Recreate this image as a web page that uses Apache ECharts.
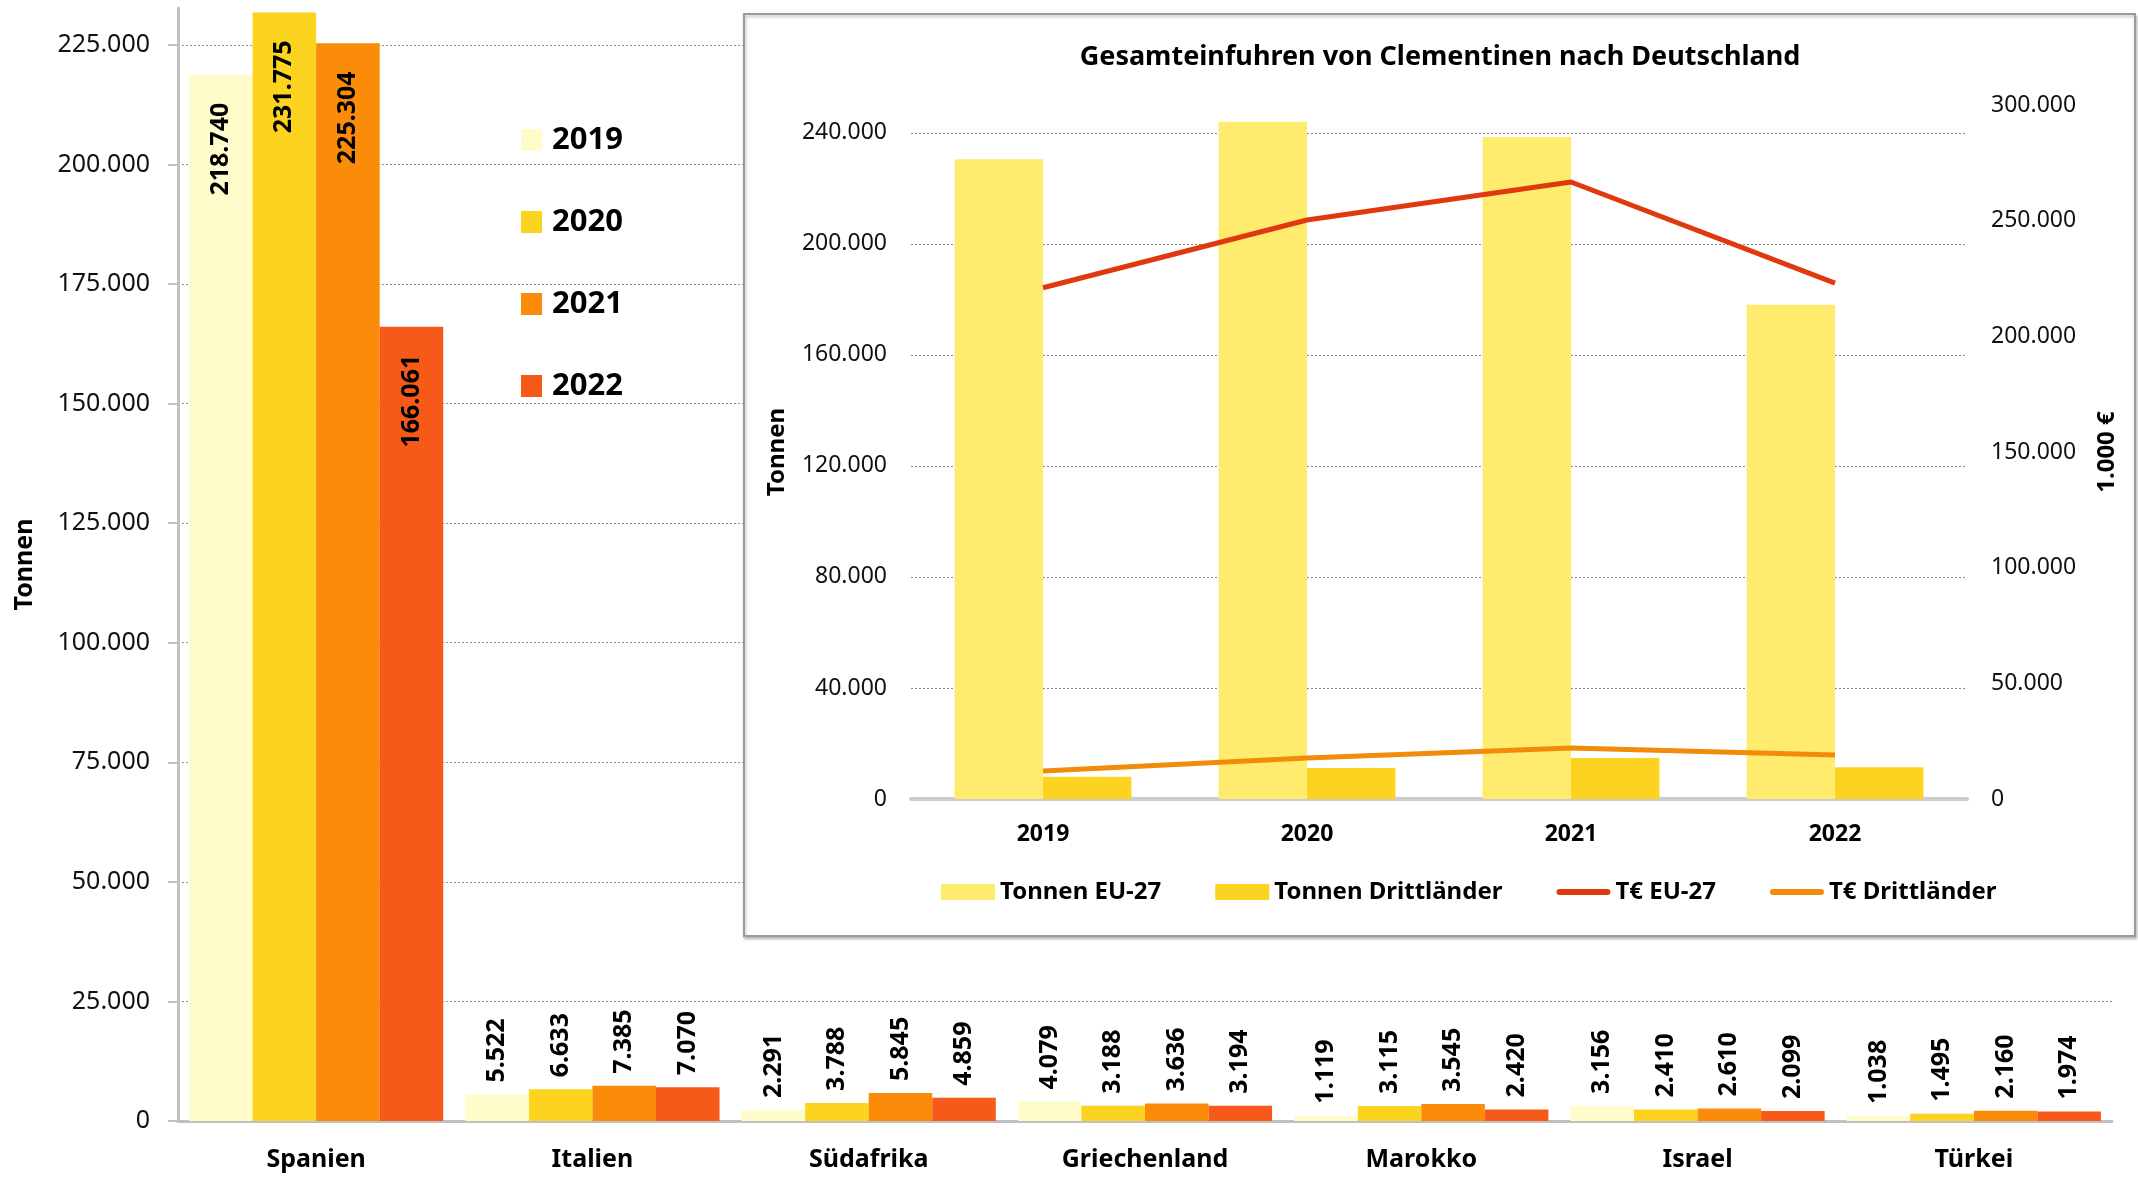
<!DOCTYPE html>
<html>
<head>
<meta charset="utf-8">
<script src="https://cdn.jsdelivr.net/npm/echarts@6/dist/echarts.min.js"></script>
<style>
  html, body { margin: 0; padding: 0; background: #fff; }
  #chart { width: 2138px; height: 1177px; }
</style>
</head>
<body>
<div id="chart"></div>
<script>
// main chart: imports by country (Tonnen)
const countries = ['Spanien', 'Italien', 'Südafrika', 'Griechenland', 'Marokko', 'Israel', 'Türkei']
const v2019 = [218740, 5522, 2291, 4079, 1119, 3156, 1038]
const v2020 = [231775, 6633, 3788, 3188, 3115, 2410, 1495]
const v2021 = [225304, 7385, 5845, 3636, 3545, 2610, 2160]
const v2022 = [166061, 7070, 4859, 3194, 2420, 2099, 1974]

// inset: total imports
const years = ['2019', '2020', '2021', '2022']
const tonsEU = [230500, 244000, 238500, 178000]
const tonsThird = [8000, 11200, 14800, 11400]
const euroEU = [221000, 250300, 266700, 223000]
const euroThird = [12100, 17700, 22000, 19000]

const FONT = 'Noto Sans'
const fmt = v => String(v).replace(/\B(?=(\d{3})+(?!\d))/g, '.')

const yearColors = ['#FFFCCB', '#FCD420', '#FA8C0A', '#F75A18']
const lineIcon = 'path://M3,0 H51 A3,3 0 0 1 51,6 H3 A3,3 0 0 1 3,0 Z'

const labelSmall = {
  show: true,
  position: 'top',
  rotate: 90,
  align: 'left',
  verticalAlign: 'middle',
  distance: 12,
  fontFamily: FONT,
  fontWeight: 'bold',
  fontSize: 25,
  color: '#000',
  formatter: p => fmt(p.value)
}
const labelBig = {
  position: 'insideTop',
  align: 'right',
  distance: 28
}

const mainSeries = (name, values, color) => ({
  name,
  type: 'bar',
  xAxisIndex: 0,
  yAxisIndex: 0,
  barGap: '0%',
  barCategoryGap: '8%',
  itemStyle: { color },
  label: labelSmall,
  data: values.map(v => (v > 100000 ? { value: v, label: labelBig } : v))
})

const chart = echarts.init(document.getElementById('chart'))

const option = {
  animation: false,
  backgroundColor: '#fff',
  textStyle: { fontFamily: FONT },
  title: {
    text: 'Gesamteinfuhren von Clementinen nach Deutschland',
    left: 1440,
    top: 44,
    padding: 0,
    textAlign: 'center',
    z: 10,
    textStyle: { fontFamily: FONT, fontSize: 27, fontWeight: 'bold', color: '#000' }
  },
  graphic: [
    {
      type: 'rect',
      z: 1,
      shape: { x: 744, y: 14, width: 1391, height: 922 },
      style: {
        fill: '#fff',
        stroke: '#9a9a9a',
        lineWidth: 2,
        shadowBlur: 3,
        shadowOffsetX: 1,
        shadowOffsetY: 2,
        shadowColor: 'rgba(0,0,0,0.25)'
      }
    }
  ],
  legend: [
    {
      data: years,
      orient: 'vertical',
      left: 521,
      top: 124,
      padding: 0,
      itemWidth: 21,
      itemHeight: 22,
      itemGap: 50,
      icon: 'rect',
      textStyle: { fontFamily: FONT, fontSize: 31, fontWeight: 'bold', color: '#000', lineHeight: 32, padding: [0, 0, 0, 5] }
    },
    {
      data: [
        { name: 'Tonnen EU-27', icon: 'rect' },
        { name: 'Tonnen Drittländer', icon: 'rect' },
        { name: 'T€ EU-27', icon: lineIcon },
        { name: 'T€ Drittländer', icon: lineIcon }
      ],
      left: 941,
      top: 880,
      padding: 0,
      itemWidth: 54,
      itemHeight: 16,
      itemGap: 54,
      z: 10,
      textStyle: { fontFamily: FONT, fontSize: 24, fontWeight: 'bold', color: '#000' }
    }
  ],
  grid: [
    { left: 178, right: 26, top: 8, bottom: 56 },
    { left: 911, right: 171, top: 105, bottom: 378, z: 5 }
  ],
  xAxis: [
    {
      type: 'category',
      gridIndex: 0,
      data: countries,
      axisLine: { lineStyle: { color: '#c0c0c0', width: 3 } },
      axisTick: { show: false },
      axisLabel: { fontFamily: FONT, fontSize: 25, fontWeight: 'bold', color: '#000', margin: 26 }
    },
    {
      type: 'category',
      gridIndex: 1,
      data: years,
      z: 5,
      axisLine: { lineStyle: { color: '#cccccc', width: 4 } },
      axisTick: { show: false },
      axisLabel: { fontFamily: FONT, fontSize: 23, fontWeight: 'bold', color: '#000', margin: 24 }
    }
  ],
  yAxis: [
    {
      type: 'value',
      gridIndex: 0,
      min: 0,
      max: 232700,
      interval: 25000,
      name: 'Tonnen',
      nameLocation: 'middle',
      nameRotate: 90,
      nameGap: 141,
      nameTextStyle: { fontFamily: FONT, fontSize: 25, fontWeight: 'bold', color: '#000' },
      axisLine: { show: true, lineStyle: { color: '#c0c0c0', width: 3 } },
      axisTick: { show: true, length: 10, lineStyle: { color: '#c0c0c0', width: 2 } },
      axisLabel: { fontFamily: FONT, fontSize: 25, color: '#111', margin: 28, showMaxLabel: false, formatter: fmt },
      splitLine: { show: true, showMaxLine: false, lineStyle: { color: '#8c8c8c', type: [2, 2], width: 1 } }
    },
    {
      type: 'value',
      gridIndex: 1,
      min: 0,
      max: 250000,
      interval: 40000,
      z: 5,
      name: 'Tonnen',
      nameLocation: 'middle',
      nameRotate: 90,
      nameGap: 122,
      nameTextStyle: { fontFamily: FONT, fontSize: 24, fontWeight: 'bold', color: '#000' },
      axisLine: { show: false },
      axisTick: { show: false },
      axisLabel: { fontFamily: FONT, fontSize: 23, color: '#111', margin: 24, showMaxLabel: false, formatter: fmt },
      splitLine: { show: true, showMaxLine: false, lineStyle: { color: '#8c8c8c', type: [2, 2], width: 1 } }
    },
    {
      type: 'value',
      gridIndex: 1,
      position: 'right',
      min: 0,
      max: 300000,
      interval: 50000,
      z: 5,
      name: '1.000 €',
      nameLocation: 'middle',
      nameRotate: 90,
      nameGap: 128,
      nameTextStyle: { fontFamily: FONT, fontSize: 24, fontWeight: 'bold', color: '#000' },
      axisLine: { show: false },
      axisTick: { show: false },
      axisLabel: { fontFamily: FONT, fontSize: 23, color: '#111', margin: 24, formatter: fmt },
      splitLine: { show: false }
    }
  ],
  series: [
    mainSeries('2019', v2019, yearColors[0]),
    mainSeries('2020', v2020, yearColors[1]),
    mainSeries('2021', v2021, yearColors[2]),
    mainSeries('2022', v2022, yearColors[3]),
    {
      name: 'Tonnen EU-27',
      type: 'bar',
      xAxisIndex: 1,
      yAxisIndex: 1,
      z: 5,
      barGap: '0%',
      barCategoryGap: '33%',
      itemStyle: { color: '#FFEC6E' },
      data: tonsEU
    },
    {
      name: 'Tonnen Drittländer',
      type: 'bar',
      xAxisIndex: 1,
      yAxisIndex: 1,
      z: 5,
      barGap: '0%',
      barCategoryGap: '33%',
      itemStyle: { color: '#FDD321' },
      data: tonsThird
    },
    {
      name: 'T€ EU-27',
      type: 'line',
      xAxisIndex: 1,
      yAxisIndex: 2,
      z: 6,
      symbol: 'none',
      itemStyle: { color: '#E0380F' },
      lineStyle: { color: '#E0380F', width: 5 },
      data: euroEU
    },
    {
      name: 'T€ Drittländer',
      type: 'line',
      xAxisIndex: 1,
      yAxisIndex: 2,
      z: 6,
      symbol: 'none',
      itemStyle: { color: '#F28A0A' },
      lineStyle: { color: '#F28A0A', width: 5 },
      data: euroThird
    }
  ]
}

chart.setOption(option)
window.addEventListener('resize', () => chart.resize())
</script>
</body>
</html>
